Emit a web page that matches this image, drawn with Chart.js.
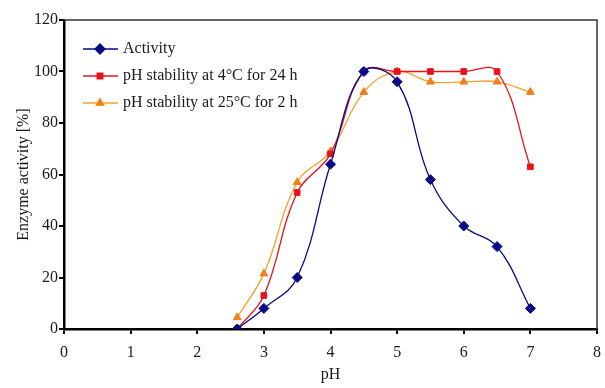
<!DOCTYPE html>
<html>
<head>
<meta charset="utf-8">
<script src="https://cdn.jsdelivr.net/npm/chart.js@4"></script>
<style>
  html, body { margin: 0; padding: 0; background: #fff; }
  #wrap { width: 605px; height: 388px; }
</style>
</head>
<body>
<div id="wrap"><canvas id="c" width="605" height="388"></canvas></div>
<script>
'use strict';

// ── Data ─────────────────────────────────────────────────────────────────────
const phValues     = [2.6, 3, 3.5, 4, 4.5, 5, 5.5, 6, 6.5, 7];
const activity     = [0, 8, 20, 64, 100, 96, 58, 40, 32, 8];
const stability4C  = [0, 13, 53, 68, 100, 100, 100, 100, 100, 63];
const stability25C = [4.5, 21.5, 57, 69, 92, 100, 96, 96, 96, 92];
const seriesNames  = ['Activity', 'pH stability at 4\u00b0C for 24 h', 'pH stability at 25\u00b0C for 2 h'];
const xTicks = [0, 1, 2, 3, 4, 5, 6, 7, 8];
const yTicks = [0, 20, 40, 60, 80, 100, 120];

const SERIF = '"Liberation Serif", "DejaVu Serif", serif';
const BLUE = '#0a0a85', RED = '#e8121c', ORANGE = '#f3a22c', ORANGE_PT = '#f57d1a';

function pts(ys) { return phValues.map((x, i) => ({ x, y: ys[i] })); }

// ── Legend drawn inside the plot, plus top/right frame ───────────────────────
const framePlugin = {
  id: 'frame',
  afterDraw(chart) {
    const { ctx, chartArea: a } = chart;
    ctx.save();
    ctx.strokeStyle = '#333';
    ctx.lineWidth = 1.5;
    ctx.beginPath();
    ctx.moveTo(a.left, a.top);
    ctx.lineTo(a.right, a.top);
    ctx.lineTo(a.right, a.bottom);
    ctx.stroke();

    // legend
    const rows = [49, 76, 103];
    chart.data.datasets.forEach((ds, i) => {
      const y = rows[i];
      ctx.strokeStyle = ds.borderColor;
      ctx.lineWidth = 1.3;
      ctx.beginPath();
      ctx.moveTo(83, y);
      ctx.lineTo(118, y);
      ctx.stroke();
      Chart.helpers.drawPoint(ctx, {
        pointStyle: ds.pointStyle, radius: ds.pointRadius, rotation: 0, borderWidth: 1
      }, 100, y);
      ctx.fillStyle = ds.pointBackgroundColor;
      ctx.strokeStyle = ds.pointBorderColor;
      ctx.fill();
      ctx.fillStyle = '#1a1a1a';
      ctx.font = '16px ' + SERIF;
      ctx.textBaseline = 'middle';
      ctx.fillText(seriesNames[i], 123, y);
    });
    ctx.restore();
  }
};

const mkSet = (label, data, line, pt, style, r) => ({
  label, data: pts(data),
  borderColor: line, borderWidth: 1.3,
  pointBackgroundColor: pt, pointBorderColor: pt,
  pointStyle: style, pointRadius: r, pointBorderWidth: 1,
  tension: 0.4, fill: false,
});

new Chart(document.getElementById('c').getContext('2d'), {
  type: 'line',
  data: {
    datasets: [
      mkSet(seriesNames[0], activity, BLUE, BLUE, 'rectRot', 5),
      mkSet(seriesNames[1], stability4C, RED, RED, 'rect', 4),
      mkSet(seriesNames[2], stability25C, ORANGE, ORANGE_PT, 'triangle', 4.5),
    ],
  },
  options: {
    responsive: false,
    animation: false,
    layout: { padding: { top: 20, right: 8, left: 10, bottom: 0 } },
    plugins: { legend: { display: false }, tooltip: { enabled: false } },
    scales: {
      x: {
        type: 'linear', min: 0, max: 8,
        afterBuildTicks: s => { s.ticks = xTicks.map(v => ({ value: v })); },
        afterFit: s => { s.height = 59; s.paddingLeft = 0; s.paddingRight = 0; },
        grid: { display: true, drawOnChartArea: false, tickLength: 5, color: '#000', lineWidth: 2 },
        border: { color: '#000', width: 2.5 },
        ticks: { color: '#1a1a1a', font: { family: SERIF, size: 16 }, padding: 9 },
        title: { display: true, text: 'pH', color: '#1a1a1a', font: { family: SERIF, size: 16 }, padding: { top: 3 } },
      },
      y: {
        type: 'linear', min: 0, max: 120,
        afterBuildTicks: s => { s.ticks = yTicks.map(v => ({ value: v })); },
        afterFit: s => { s.width = 54; s.paddingTop = 0; s.paddingBottom = 0; },
        grid: { display: true, drawOnChartArea: false, tickLength: 5, color: '#000', lineWidth: 2 },
        border: { color: '#000', width: 2.5 },
        ticks: { color: '#1a1a1a', font: { family: SERIF, size: 16 }, padding: 1 },
        title: { display: true, text: 'Enzyme activity [%]', color: '#1a1a1a', font: { family: SERIF, size: 16 }, padding: { bottom: 2 } },
      },
    },
  },
  plugins: [framePlugin],
});
</script>
</body>
</html>
